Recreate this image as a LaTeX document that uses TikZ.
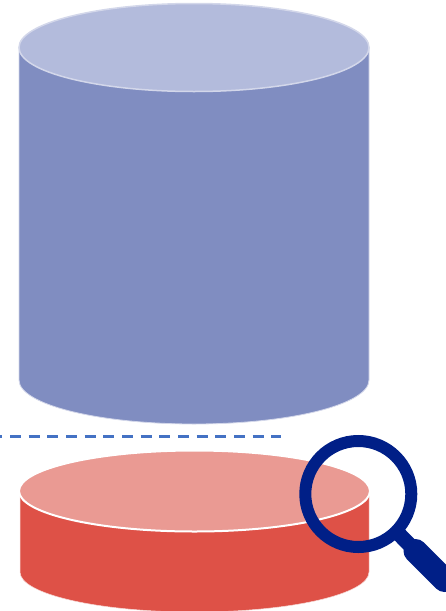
\documentclass[tikz,border=0pt]{standalone}
\definecolor{blueside}{HTML}{808DC1}
\definecolor{bluetop}{HTML}{B3BBDC}
\definecolor{blueedge}{HTML}{D3D7EA}
\definecolor{redside}{HTML}{DE5147}
\definecolor{redtop}{HTML}{EA9A93}
\definecolor{rededge}{HTML}{F6D9D6}
\definecolor{dashblue}{HTML}{4472C4}
\definecolor{lens}{HTML}{001F87}
\tikzset{
  bluebody/.style={fill=blueside,draw=blueedge,line width=0.8pt},
  bluecap/.style={fill=bluetop,draw=blueedge,line width=1.5pt},
  redbody/.style={fill=redside,draw=rededge,line width=0.5pt},
  redcap/.style={fill=redtop,draw=white,line width=2pt},
  floorline/.style={draw=dashblue,line width=2.6pt,dash pattern=on 11pt off 7.67pt,dash phase=8.67pt},
  lensring/.style={draw=lens,line width=12pt},
  lensneck/.style={draw=lens,line width=15pt},
  lensgrip/.style={draw=lens,line width=24pt,line cap=round}
}
\begin{document}
\begin{tikzpicture}[x=1pt,y=-1pt]
\useasboundingbox (0,0) rectangle (446,611);
\clip (0,0) rectangle (446,611);
% blue cylinder
\path[bluebody] (19,47.5) -- (19,380) arc[start angle=180,end angle=360,x radius=175,y radius=-44] -- (369,47.5) -- cycle;
\path[bluecap] (194,47.5) ellipse[x radius=175,y radius=44];
% dashed line
\coordinate (dashstart) at (0,436.5);
\coordinate (dashend) at (281,436.5);
\draw[floorline] (dashstart) -- (dashend);
% red cylinder
\path[redbody] (20,491) -- (20,572) arc[start angle=180,end angle=360,x radius=174.5,y radius=-40] -- (369,491) -- cycle;
\path[redcap] (194.5,491) ellipse[x radius=175.5,y radius=40.5];
% magnifier
\coordinate (lenscentre) at (358.3,494);
\coordinate (neckstart) at (397,532);
\coordinate (gripstart) at (415.5,551);
\coordinate (gripend) at (444.5,580);
\draw[lensneck] (neckstart) -- (gripstart);
\draw[lensgrip] (gripstart) -- (gripend);
\draw[lensring] (lenscentre) circle[radius=53];
\end{tikzpicture}
\end{document}
